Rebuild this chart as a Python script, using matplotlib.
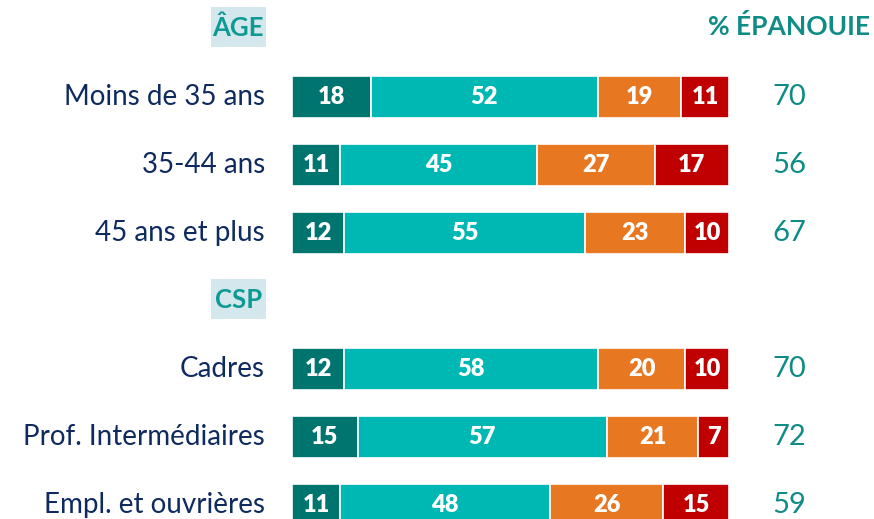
import matplotlib.pyplot as plt
import matplotlib.patches as mpatches
import numpy as np

# data
categories = ["Moins de 35 ans", "35-44 ans", "45 ans et plus",
              "Cadres", "Prof. Intermédiaires", "Empl. et ouvrières"]
row_slots = [1, 2, 3, 5, 6, 7]
very = [18, 11, 12, 12, 15, 11]
rather = [52, 45, 55, 58, 57, 48]
rather_not = [19, 27, 23, 20, 21, 26]
not_at_all = [11, 17, 10, 10, 7, 15]
epanouie = [70, 56, 67, 70, 72, 59]
headers = ["ÂGE", "CSP"]
header_slots = [0, 4]

colors = ["#007570", "#00b8b3", "#e87722", "#c00000"]
navy = "#0f2a5f"
teal_txt = "#0e8c85"

plt.rcParams['font.family'] = ['Lato', 'DejaVu Sans']

fig = plt.figure(figsize=(8.74, 5.19), dpi=100)
ax = fig.add_axes([0, 0, 1, 1])
px = 4.37
ax.set_xlim(-292 / px, (874 - 292) / px)
ax.set_ylim((519 - 29) / 68, -29 / 68)
ax.axis('off')

y = np.array(row_slots, dtype=float)
left = np.zeros(len(y))
for vals, c in zip([very, rather, rather_not, not_at_all], colors):
    vals = np.array(vals)
    ax.barh(y, vals, left=left, height=0.62, color=c, edgecolor="white", linewidth=1.2)
    for yi, l, v in zip(y, left, vals):
        ax.text(l + v / 2, yi, str(v), ha="center", va="center", color="white",
                fontsize=17, fontweight="heavy")
    left += vals

for yi, cat, e in zip(y, categories, epanouie):
    ax.text(-6.2, yi, cat, ha="right", va="center", color=navy, fontsize=20)
    ax.text(113.7, yi, str(e), ha="center", va="center", color=teal_txt, fontsize=21)

# section headers with light boxes
for yi, h in zip(header_slots, headers):
    ax.add_patch(mpatches.Rectangle((-18.6, yi - 0.33), 12.6, 0.6,
                                    fc="#d3e7ec", ec="none", zorder=1))
    ax.text(-12.3, yi - 0.02, h, ha="center", va="center", color="#0e9a94",
            fontsize=18.5, fontweight="bold", zorder=2)

ax.text(113.7, -0.03, "% ÉPANOUIE", ha="center", va="center", color=teal_txt,
        fontsize=19, fontweight="bold")

fig.savefig("out.png", dpi=100)
